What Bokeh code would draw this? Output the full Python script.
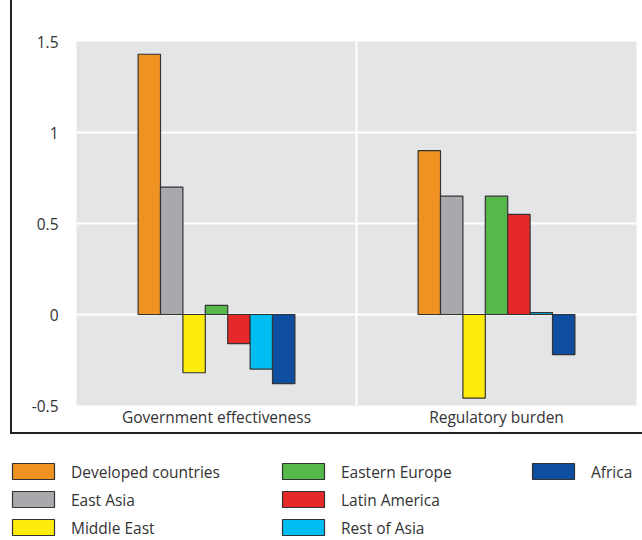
from bokeh.plotting import figure
from bokeh.models import FactorRange, Range1d, Span, FixedTicker, ColumnDataSource
from bokeh.transform import dodge
from bokeh.core.properties import value
from bokeh.embed import file_html
from bokeh.resources import INLINE

categories = ["Government effectiveness", "Regulatory burden"]
regions = ["Developed countries", "East Asia", "Middle East", "Eastern Europe",
           "Latin America", "Rest of Asia", "Africa"]
colors = ["#F09222", "#A7A9AC", "#FFEC0C", "#56B848", "#E52828", "#00BEF2", "#0E4D9F"]
gov_effectiveness = [1.43, 0.70, -0.32, 0.05, -0.16, -0.30, -0.38]
reg_burden = [0.90, 0.65, -0.46, 0.65, 0.55, 0.01, -0.22]
y_ticks = [-0.5, 0, 0.5, 1, 1.5]
y_tick_labels = ["-0.5", "0", "0.5", "1", "1.5"]

FONT = "Open Sans"
FS = "15.5px"
TXT = "#333333"
W, H1 = 642, 434

p = figure(x_range=FactorRange(factors=categories), y_range=Range1d(-0.5, 1.5),
           width=W, height=H1, output_backend="svg", toolbar_location=None,
           min_border_left=76, min_border_right=6, min_border_top=41, min_border_bottom=29)
p.background_fill_color = "#E4E5E7"
p.border_fill_color = None
p.outline_line_color = None
# L-shaped frame around the chart (left and bottom rules)
p.styles = {
    "background": ("linear-gradient(#222,#222) 10px 0px / 2px 434px no-repeat, "
                   "linear-gradient(#222,#222) 10px 432px / 632px 2px no-repeat, #ffffff"),
}

bar_w = 0.08
for i, (reg, col) in enumerate(zip(regions, colors)):
    src = ColumnDataSource(dict(cat=categories, val=[gov_effectiveness[i], reg_burden[i]]))
    p.vbar(x=dodge("cat", (i - 3) * bar_w, range=p.x_range), top="val", bottom=0,
           width=bar_w, source=src, fill_color=col, line_color="#333333", line_width=1.2)

p.xgrid.visible = False
p.ygrid.grid_line_color = "white"
p.ygrid.grid_line_width = 2
p.ygrid.ticker = FixedTicker(ticks=y_ticks)
p.add_layout(Span(location=1, dimension="height", line_color="white", line_width=2, level="underlay"))

p.yaxis.ticker = FixedTicker(ticks=y_ticks)
p.yaxis.major_label_overrides = {t: l for t, l in zip(y_ticks, y_tick_labels)}
for ax in (p.xaxis, p.yaxis):
    ax.axis_line_color = None
    ax.major_tick_line_color = None
    ax.minor_tick_line_color = None
    ax.major_tick_out = 0
    ax.major_tick_in = 0
    ax.major_label_text_font = FONT
    ax.major_label_text_font_size = FS
    ax.major_label_text_color = TXT
p.yaxis.major_label_standoff = 18
p.yaxis.major_label_text_baseline = "alphabetic"
p.xaxis.major_label_standoff = 0

# legend (separate root so its frame is not aligned with the chart's)
H2 = 540 - H1
q = figure(x_range=Range1d(0, W), y_range=Range1d(H2, 0), width=W, height=H2,
           output_backend="svg", toolbar_location=None, min_border=0,
           min_border_left=0, min_border_right=0, min_border_top=0, min_border_bottom=0,
           x_axis_location=None, y_axis_location=None)
q.grid.visible = False
q.outline_line_color = None
col_x = [12, 282, 532]
row_y = [37, 65, 93]
sw_w, sw_h = 42, 16
sx, sy, tx, ty = [], [], [], []
for i in range(len(regions)):
    c, r = divmod(i, 3)
    sx.append(col_x[c] + sw_w / 2)
    sy.append(row_y[r])
    tx.append(col_x[c] + 58.5)
    ty.append(row_y[r])
q.rect(x=sx, y=sy, width=sw_w, height=sw_h, fill_color=colors, line_color="#333333", line_width=1.2)
q.text(x=tx, y=ty, text=regions, text_font=value(FONT), text_font_size=FS,
       text_color=TXT, text_baseline="middle", text_align="left")

open("out.html", "w").write(file_html([p, q], INLINE))
